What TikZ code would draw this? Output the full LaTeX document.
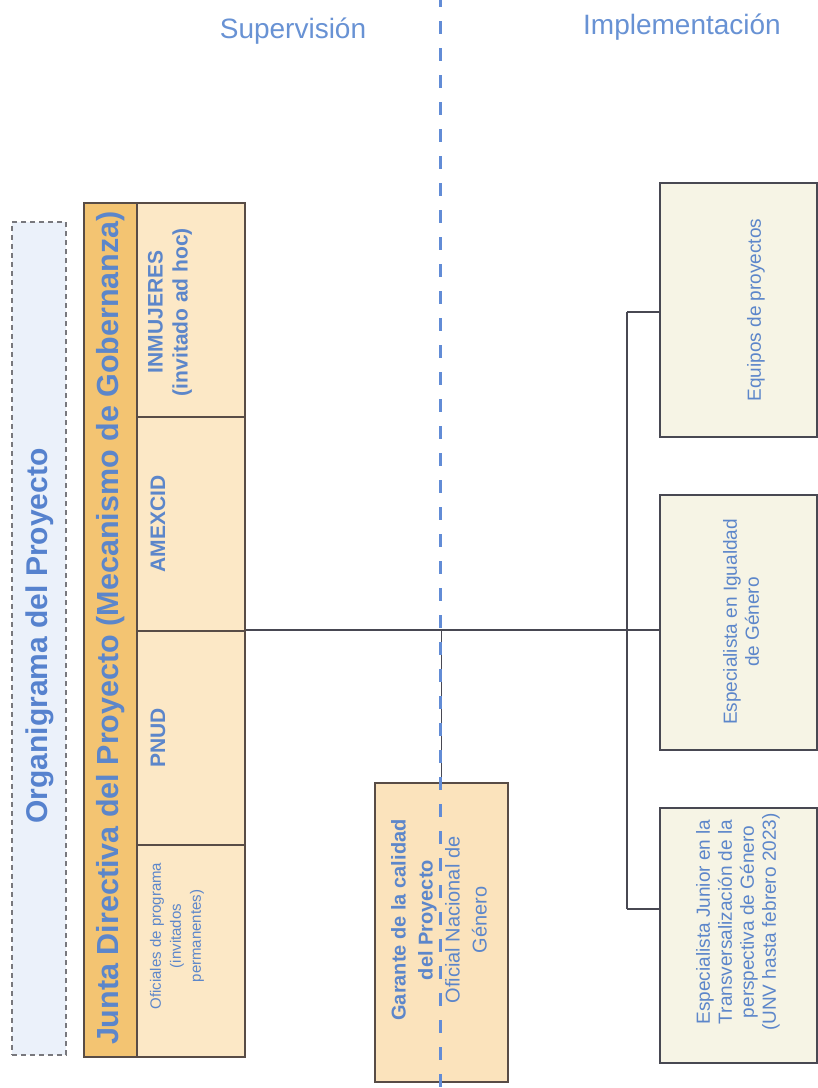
\documentclass[tikz,border=0pt]{standalone}
\usepackage{fontspec}
\setmainfont{Liberation Sans}
\definecolor{txtblue}{RGB}{92,134,202}
\definecolor{headblue}{RGB}{104,146,212}
\definecolor{titleblue}{RGB}{86,130,206}
\definecolor{orangebar}{RGB}{243,196,114}
\definecolor{peach}{RGB}{252,232,198}
\definecolor{garfill}{RGB}{251,227,188}
\definecolor{rightfill}{RGB}{246,244,229}
\definecolor{boxline}{RGB}{88,76,70}
\definecolor{connline}{RGB}{72,72,82}
\definecolor{dashblue}{RGB}{98,140,214}
\definecolor{titlefill}{RGB}{235,241,250}
\definecolor{titleline}{RGB}{120,120,125}
\tikzset{
  box/.style={draw=boxline, line width=2pt, rectangle, inner sep=0pt},
  cellbox/.style={box, fill=peach},
  barbox/.style={box, fill=orangebar},
  garbox/.style={box, fill=garfill},
  rightbox/.style={draw=connline, line width=1.6pt, fill=rightfill, rectangle, inner sep=0pt},
  titlebox/.style={draw=titleline, dash pattern=on 5pt off 4pt, line width=1.2pt, fill=titlefill, rectangle, inner sep=0pt},
  vtext/.style={rotate=90, align=center, inner sep=0pt, text=txtblue},
  conn/.style={draw=connline, line width=1.8pt},
  dashline/.style={draw=dashblue, line width=3pt, dash pattern=on 13pt off 14pt},
  head/.style={text=headblue, inner sep=0pt, font=\fontsize{28}{32}\selectfont}
}
\begin{document}
\begin{tikzpicture}[x=1pt,y=-1pt]
\useasboundingbox (0,0) rectangle (818,1088);
\fill[white] (0,0) rectangle (818,1088);

% headings
\node[head] (sup) at (293,31) {Supervisión};
\node[head] (imp) at (682,27) {Implementación};

% title box
\node[titlebox, minimum width=54pt, minimum height=833pt] (title) at (39,638.5) {};
\node[vtext, text=titleblue, font=\bfseries\fontsize{30}{34}\selectfont] (titletxt) at (40,636) {Organigrama del Proyecto};

% junta bar
\node[barbox, minimum width=53pt, minimum height=854pt] (junta) at (110.5,630) {};
\node[vtext, font=\bfseries\fontsize{30.5}{34}\selectfont] (juntatxt) at (111,628) {Junta Directiva del Proyecto (Mecanismo de Gobernanza)};

% cells
\node[cellbox, minimum width=108pt, minimum height=214pt] (inm) at (191,310) {};
\node[cellbox, minimum width=108pt, minimum height=214pt] (ame) at (191,524) {};
\node[cellbox, minimum width=108pt, minimum height=214pt] (pnud) at (191,738) {};
\node[cellbox, minimum width=108pt, minimum height=212pt] (ofi) at (191,951) {};
\node[vtext, font=\bfseries\fontsize{21}{25}\selectfont] (inmtxt) at (170,312) {INMUJERES\\(invitado ad hoc)};
\node[vtext, font=\bfseries\fontsize{21}{25}\selectfont] (ametxt) at (158,524) {AMEXCID};
\node[vtext, font=\bfseries\fontsize{21}{25}\selectfont] (pnudtxt) at (158,738) {PNUD};
\node[vtext, font=\fontsize{15}{20}\selectfont] (ofitxt) at (177,936) {Oficiales de programa\\(invitados\\permanentes)};

% garante
\node[garbox, minimum width=133pt, minimum height=299pt] (gar) at (441.5,932.5) {};
\node[vtext, font=\fontsize{20}{27}\selectfont] (gartxt) at (439,920) {\textbf{Garante de la calidad}\\\textbf{del Proyecto}\\Oficial Nacional de\\Género};

% right boxes
\node[rightbox, minimum width=157pt, minimum height=254pt] (equ) at (738.5,310) {};
\node[rightbox, minimum width=157pt, minimum height=255pt] (igu) at (738.5,622.5) {};
\node[rightbox, minimum width=157pt, minimum height=255pt] (jun) at (738.5,935.5) {};
\node[vtext, font=\fontsize{19}{22}\selectfont] (equtxt) at (756,310) {Equipos de proyectos};
\node[vtext, font=\fontsize{19}{22}\selectfont] (igutxt) at (741,622) {Especialista en Igualdad\\de Género};
\node[vtext, font=\fontsize{19}{22}\selectfont] (juntxt) at (738,922) {Especialista Junior en la\\Transversalización de la\\perspectiva de Género\\(UNV hasta febrero 2023)};

% connectors
\coordinate (busT) at (627,312);
\coordinate (busB) at (627,909);
\coordinate (hj) at (pnud.north east);
\coordinate (gj) at (gar.north |- hj);
\draw[conn] (hj) -- (hj -| igu.west);
\draw[conn] (busT) -- (busB);
\draw[conn] (busT) -- (busT -| equ.west);
\draw[conn] (busB) -- (busB -| jun.west);
\draw[conn] (gj) -- (gar.north);

% dashed divider
\coordinate (dtop) at (440,-6);
\coordinate (dbot) at (440,1088);
\draw[dashline] (dtop) -- (dbot);
\end{tikzpicture}
\end{document}
